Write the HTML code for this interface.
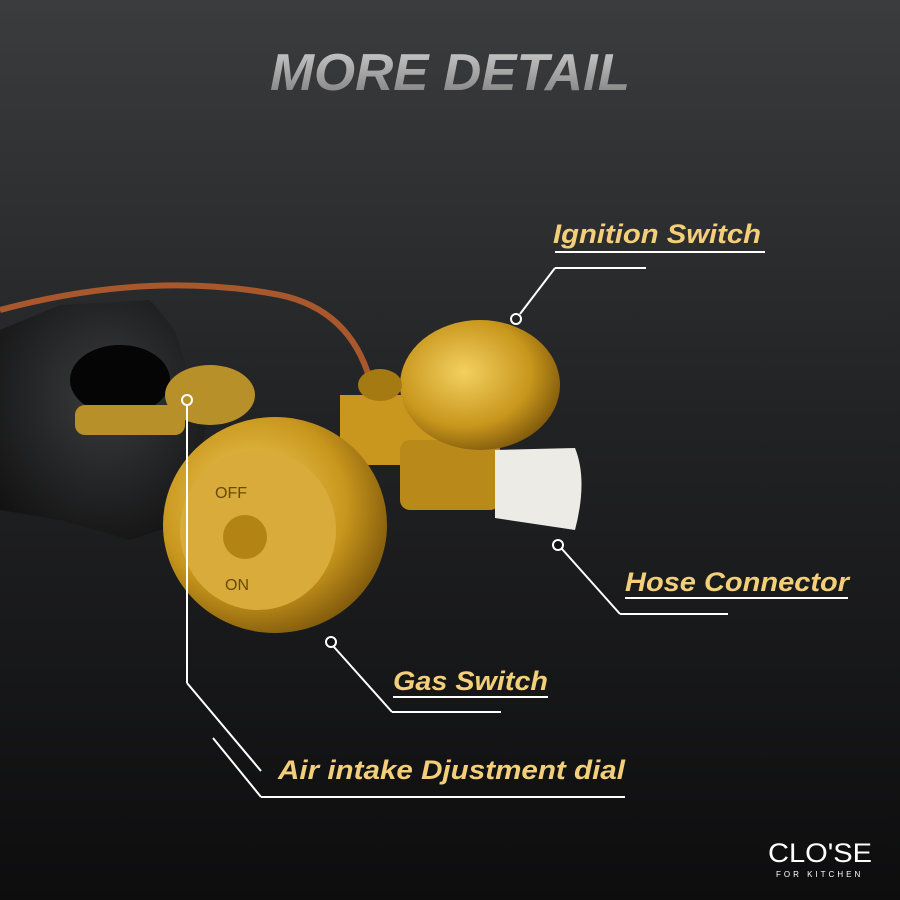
<!DOCTYPE html><html><head><style>
body{margin:0;width:900px;height:900px;overflow:hidden;background:linear-gradient(180deg,#3b3c3e 0%,#222325 45%,#0d0d0e 100%);font-family:"Liberation Sans",sans-serif}
svg{position:absolute;left:0;top:0}
</style></head><body>
<svg width="900" height="900" viewBox="0 0 900 900">
<defs>
<linearGradient id="t" x1="0" y1="0" x2="0" y2="1"><stop offset="0" stop-color="#d0d0d0"/><stop offset="1" stop-color="#7a7a7a"/></linearGradient>
<radialGradient id="b" cx="0.4" cy="0.4" r="0.7"><stop offset="0" stop-color="#f3d060"/><stop offset="0.6" stop-color="#c8961c"/><stop offset="1" stop-color="#6e4a08"/></radialGradient>
<radialGradient id="ir" cx="0.5" cy="0.4" r="0.7"><stop offset="0" stop-color="#3a3b3e"/><stop offset="1" stop-color="#111"/></radialGradient>
</defs>
<text x="270" y="90" textLength="360" lengthAdjust="spacingAndGlyphs" font-size="52" font-weight="bold" font-style="italic" fill="url(#t)">MORE DETAIL</text>
<path d="M0 330 L60 305 L150 300 L175 330 L190 380 L210 400 L190 520 L130 540 L60 520 L0 510Z" fill="url(#ir)"/>
<ellipse cx="120" cy="380" rx="50" ry="35" fill="#050505"/>
<rect x="75" y="405" width="110" height="30" rx="10" fill="#b8902a"/>
<path d="M0 310 Q150 270 280 295 Q350 310 370 380" stroke="#a8582c" stroke-width="6" fill="none"/>
<rect x="340" y="395" width="120" height="70" fill="#c9961e"/>
<rect x="400" y="440" width="100" height="70" rx="10" fill="#b98a1a"/>
<path d="M495 450 L575 448 Q588 480 575 530 L495 518Z" fill="#ecebe6"/>
<ellipse cx="480" cy="385" rx="80" ry="65" fill="url(#b)"/>
<ellipse cx="380" cy="385" rx="22" ry="16" fill="#a67a12"/>
<ellipse cx="210" cy="395" rx="45" ry="30" fill="#b8902a"/>
<ellipse cx="275" cy="525" rx="112" ry="108" fill="url(#b)"/>
<ellipse cx="258" cy="530" rx="78" ry="80" fill="#d8ab3a"/>
<circle cx="245" cy="537" r="22" fill="#b38414"/>
<text x="215" y="498" font-size="16" fill="#6a4a0a">OFF</text>
<text x="225" y="590" font-size="16" fill="#6a4a0a">ON</text>
<g stroke="#fff" stroke-width="2" fill="none">
<line x1="555" y1="252" x2="765" y2="252"/>
<line x1="555" y1="268" x2="646" y2="268"/>
<line x1="555" y1="268" x2="520" y2="314"/>
<circle cx="516" cy="319" r="5" fill="#222"/>
<line x1="625" y1="598" x2="848" y2="598"/>
<line x1="620" y1="614" x2="728" y2="614"/>
<line x1="620" y1="614" x2="562" y2="549"/>
<circle cx="558" cy="545" r="5" fill="#111"/>
<line x1="393" y1="697" x2="548" y2="697"/>
<line x1="392" y1="712" x2="501" y2="712"/>
<line x1="392" y1="712" x2="334" y2="647"/>
<circle cx="331" cy="642" r="5" fill="#111"/>
<line x1="187" y1="405" x2="187" y2="683"/>
<line x1="187" y1="683" x2="261" y2="771"/>
<circle cx="187" cy="400" r="5" fill="#b8902a"/>
<line x1="213" y1="738" x2="261" y2="797"/>
<line x1="261" y1="797" x2="625" y2="797"/>
</g>
<g font-size="27" font-weight="bold" font-style="italic" fill="#f3cf7a">
<text x="553" y="243" textLength="208" lengthAdjust="spacingAndGlyphs">Ignition Switch</text>
<text x="625" y="591" textLength="224" lengthAdjust="spacingAndGlyphs">Hose Connector</text>
<text x="393" y="690" textLength="155" lengthAdjust="spacingAndGlyphs">Gas Switch</text>
<text x="278" y="779" textLength="347" lengthAdjust="spacingAndGlyphs">Air intake Djustment dial</text>
</g>
<text x="768" y="862" font-size="27" fill="#fff" textLength="104" lengthAdjust="spacingAndGlyphs">CLO'SE</text>
<text x="776" y="877" font-size="8" fill="#fff" letter-spacing="3">FOR KITCHEN</text>
</svg>
</body></html>
